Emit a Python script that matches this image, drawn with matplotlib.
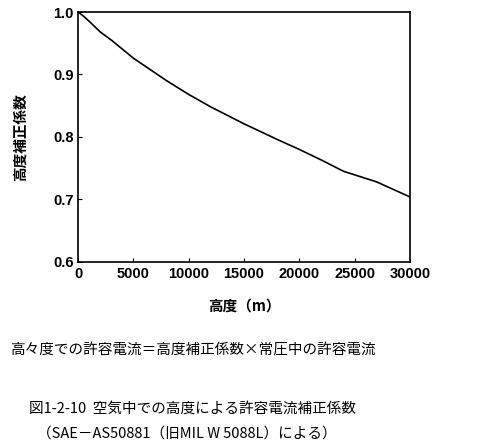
import matplotlib
matplotlib.use("Agg")
import matplotlib.pyplot as plt

altitude = [0, 500, 1000, 2000, 3000, 5000, 8000, 10000, 12000, 15000, 18000, 20000, 22000, 24000, 27000, 30000]
factor = [1.0, 0.993, 0.985, 0.968, 0.955, 0.926, 0.890, 0.868, 0.848, 0.821, 0.796, 0.780, 0.763, 0.745, 0.728, 0.704]
xticks = [0, 5000, 10000, 15000, 20000, 25000, 30000]
yticks = [0.6, 0.7, 0.8, 0.9, 1.0]

plt.rcParams['font.family'] = ['Noto Sans CJK JP', 'DejaVu Sans']
fig = plt.figure(figsize=(4.89, 4.46), dpi=100)
ax = fig.add_axes([0.16, 0.413, 0.678, 0.56])
ax.plot(altitude, factor, color='black', lw=1.2)
ax.set_xlim(0, 30000)
ax.set_ylim(0.6, 1.0)
ax.set_xticks(xticks)
ax.set_yticks(yticks)
ax.set_yticklabels([f"{v:.1f}" for v in yticks])
for lab in ax.get_xticklabels() + ax.get_yticklabels():
    lab.set_family('Liberation Sans'); lab.set_fontsize(10.5); lab.set_fontweight('bold')
ax.tick_params(direction='in', length=3)
for s in ax.spines.values():
    s.set_linewidth(1.2)
ax.set_ylabel('高度補正係数', fontsize=10.5, fontweight='bold', labelpad=18)
ax.set_xlabel('高度（m）', fontsize=10.5, fontweight='bold', labelpad=12)
fig.text(0.02, 0.205, '高々度での許容電流＝高度補正係数×常圧中の許容電流', fontsize=10.5)
fig.text(0.06, 0.075, '図1-2-10  空気中での高度による許容電流補正係数', fontsize=10.5)
fig.text(0.075, 0.018, '（SAE－AS50881（旧MIL W 5088L）による）', fontsize=10.5)
fig.savefig('out.png', dpi=100)
